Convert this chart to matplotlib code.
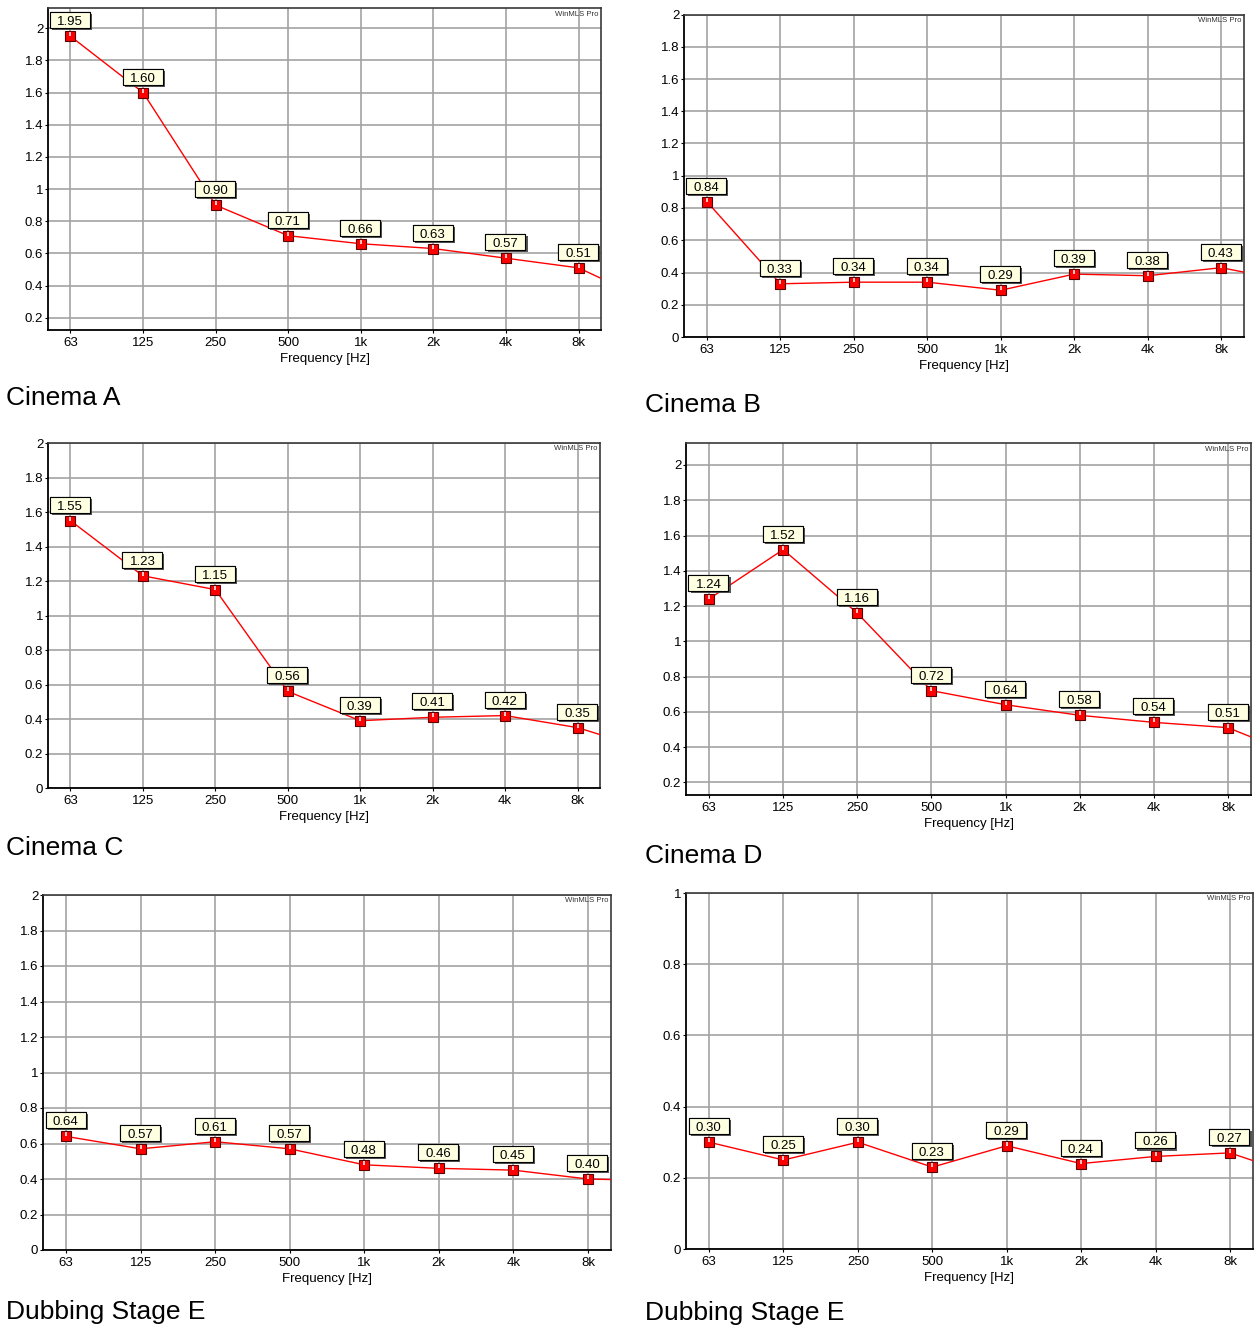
import numpy as np
import matplotlib
matplotlib.use("Agg")
import matplotlib.pyplot as plt
import matplotlib.patheffects as pe
import matplotlib.transforms as mtransforms
from matplotlib.patches import Rectangle
from matplotlib.path import Path

plt.rcParams["font.family"] = ["Liberation Sans", "DejaVu Sans"]

freq_labels = ["63", "125", "250", "500", "1k", "2k", "4k", "8k"]

cinema_a = [1.95, 1.60, 0.90, 0.71, 0.66, 0.63, 0.57, 0.51]
cinema_b = [0.84, 0.33, 0.34, 0.34, 0.29, 0.39, 0.38, 0.43]
cinema_c = [1.55, 1.23, 1.15, 0.56, 0.39, 0.41, 0.42, 0.35]
cinema_d = [1.24, 1.52, 1.16, 0.72, 0.64, 0.58, 0.54, 0.51]
dubbing_e_left = [0.64, 0.57, 0.61, 0.57, 0.48, 0.46, 0.45, 0.40]
dubbing_e_right = [0.30, 0.25, 0.30, 0.23, 0.29, 0.24, 0.26, 0.27]

# 16k band: only the run-in to the right edge of each plot is visible
tail_16k = [0.30, 0.34, 0.22, 0.34, 0.39, 0.20]

titles = ["Cinema A", "Cinema B", "Cinema C", "Cinema D",
          "Dubbing Stage E", "Dubbing Stage E"]
series = [cinema_a, cinema_b, cinema_c, cinema_d, dubbing_e_left, dubbing_e_right]

W, H = 1255, 1327

# axes box in pixels (left, top, right, bottom), y range, y ticks, title anchor (px)
panels = [
    ((48, 8.3, 601, 330), (0.1235, 2.124), np.arange(0.2, 2.01, 0.2), (6, 398)),
    ((684, 14.5, 1244, 337), (0.0, 2.0), np.arange(0.0, 2.01, 0.2), (645, 405)),
    ((48, 443, 600, 788), (0.0, 2.0), np.arange(0.0, 2.01, 0.2), (6, 848)),
    ((686, 443.3, 1251, 795), (0.128, 2.123), np.arange(0.2, 2.01, 0.2), (645, 856)),
    ((43, 895, 611, 1250), (0.0, 2.0), np.arange(0.0, 2.01, 0.2), (6, 1312)),
    ((686, 893, 1253, 1249), (0.0, 1.0), np.arange(0.0, 1.01, 0.2), (645, 1313)),
]

# small white highlight stroke on the upper half of each marker
tick_mark = Path([(0, 0.05), (0, 1.0)])

shadow = [pe.withSimplePatchShadow(offset=(1.5, -1.5), shadow_rgbFace="#444444", alpha=0.9),
          pe.Normal()]


def fmt(v):
    return f"{v:.1f}".rstrip("0").rstrip(".") if v != 0 else "0"


def value_label(ax, xi, v):
    # box drawn in pixel offsets from the data point
    trans = mtransforms.IdentityTransform() + mtransforms.ScaledTranslation(xi, v, ax.transData)
    box = Rectangle((-20.5, 8.0), 40, 16, transform=trans, fc="#ffffe1", ec="black",
                    lw=0.8, zorder=6, clip_on=False)
    box.set_path_effects(shadow)
    ax.add_patch(box)
    ax.text(-0.5, 11.0, f"{v:.2f}", transform=trans, ha="center", va="baseline",
            fontsize=9.5, zorder=7, clip_on=False)


def draw_panel(ax, vals, tail, ylim, yticks):
    n = len(vals)
    x = np.arange(n)
    ax.plot(np.arange(n + 1), list(vals) + [tail], color="#ff0000", lw=1.0, zorder=3)
    ax.plot(x, vals, ls="none", marker="s", ms=7.0, mfc="#ff0000", mec="#5a0000",
            mew=0.8, zorder=4)
    ax.plot(x, vals, ls="none", marker=tick_mark, ms=6.0, mec="white", mew=1.1, zorder=5)

    for xi, v in zip(x, vals):
        value_label(ax, xi, v)

    ax.set_xlim(-0.31, n - 1 + 0.31)
    ax.set_ylim(*ylim)
    ax.set_xticks(x)
    ax.set_xticklabels(freq_labels)
    ax.set_yticks(yticks)
    ax.set_yticklabels([fmt(v) for v in yticks])
    ax.tick_params(direction="out", length=2.2, width=0.8, pad=1.2, labelsize=9.5,
                   colors="black")
    ax.tick_params(axis="x", pad=2.6)
    ax.grid(True, color="#a3a3a3", lw=1.2)
    ax.set_axisbelow(True)
    for side in ("left", "bottom"):
        ax.spines[side].set_color("black")
        ax.spines[side].set_linewidth(1.3)
    for side in ("top", "right"):
        ax.spines[side].set_color("#3a3a3a")
        ax.spines[side].set_linewidth(1.2)
    ax.set_xlabel("Frequency [Hz]", fontsize=9.5, labelpad=3.0)
    ax.text(0.995, 0.993, "WinMLS Pro", transform=ax.transAxes, ha="right", va="top",
            fontsize=5.6, color="#333333")


fig = plt.figure(figsize=(W / 100, H / 100), dpi=100)

for vals, tail, title, (box, ylim, yticks, tpos) in zip(series, tail_16k, titles, panels):
    l, t, r, b = box
    ax = fig.add_axes([l / W, 1 - b / H, (r - l) / W, (b - t) / H])
    draw_panel(ax, vals, tail, ylim, yticks)
    fig.text(tpos[0] / W, 1 - tpos[1] / H, title, fontsize=19, ha="left", va="center")

fig.savefig("out.png", dpi=100)
